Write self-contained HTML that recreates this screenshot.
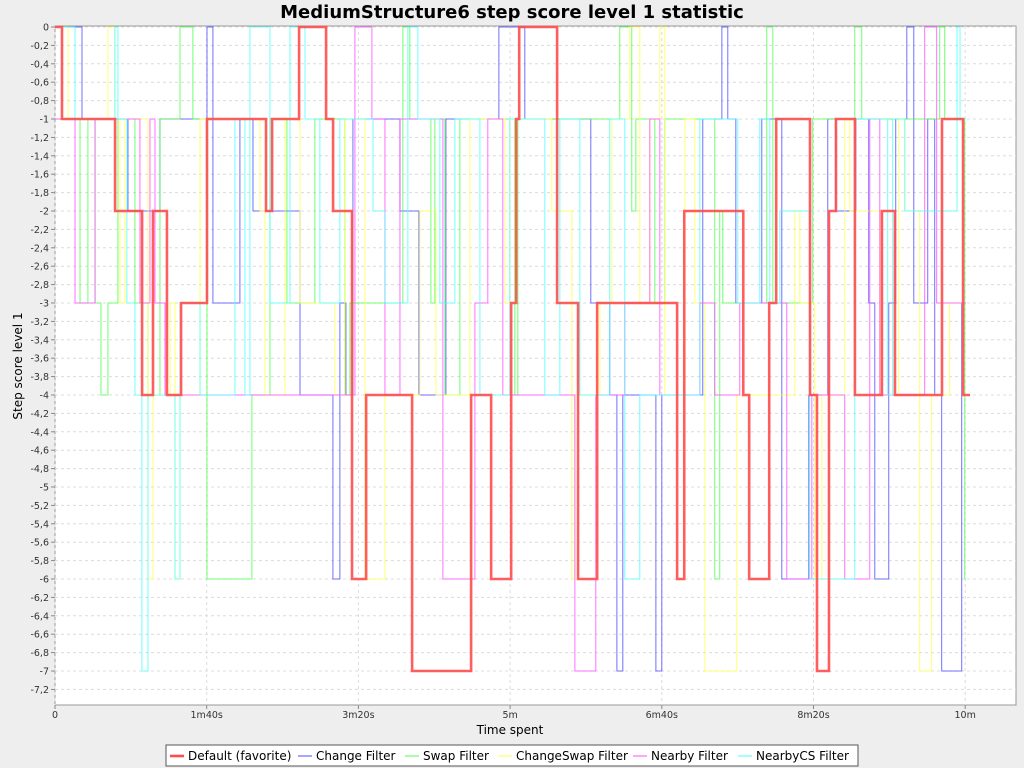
<!DOCTYPE html>
<html><head><meta charset="utf-8"><style>
body{margin:0;background:#eeeeee;font-family:"DejaVu Sans","Liberation Sans",sans-serif;}
svg{display:block;font-family:"DejaVu Sans","Liberation Sans",sans-serif;}
</style></head><body>
<svg id="chart" width="1024" height="768" xmlns="http://www.w3.org/2000/svg">
<rect x="0" y="0" width="1024" height="768" fill="#eeeeee"/>
<text x="512" y="18" text-anchor="middle" font-size="18" font-weight="bold">MediumStructure6 step score level 1 statistic</text>
<rect x="55" y="26" width="961" height="679" fill="#ffffff" stroke="#999" stroke-width="1"/>
<g id="grid"></g><g id="series"></g><g id="axes"></g>
<text x="510" y="734" text-anchor="middle" font-size="12">Time spent</text>
<text transform="translate(22,366) rotate(-90)" text-anchor="middle" font-size="12">Step score level 1</text>
<g>
<rect x="166" y="745" width="692" height="21" fill="#fff" stroke="#555"/>
<g id="legend"></g>
</g>
</svg>
<script>
const seriesNames=["Change Filter","Swap Filter","ChangeSwap Filter","Nearby Filter","NearbyCS Filter","Default (favorite)"];
const xTickValues=[0,100,200,300,400,500,600];
const xTickLabels=["0","1m40s","3m20s","5m","6m40s","8m20s","10m"];
const blueTimes=[0,17.8,48.1,69.2,100.2,104.1,121.9,130.5,161.5,183.2,187.8,191.8,196.4,227.4,239.9,257.7,292.6,309.7,353.2,365.7,370.4,374.3,396.1,400,427,439.6,443.5,448.8,465.9,479.1,496.9,509.4,514.7,527.9,536.4,540.4,549.6,554.2,561.5,566.1,575.3,579.9,584.5,597.7,600.3];
const blueValues=[0,-1,-2,-1,0,-3,-1,-2,-4,-6,-3,-4,-1,-2,-4,-1,0,-1,-3,-4,-7,-4,-7,-4,-1,0,-1,-3,-1,-6,-4,-1,-2,-1,-3,-6,-3,-1,0,-3,-1,-4,-7,-3,-3];
const greenTimes=[0,16.5,21.7,26.4,30.3,34.9,41.5,52.7,61.3,69.2,82.4,90.9,100.2,129.8,141.7,152.9,171.3,191.1,194.4,229.3,233.9,247.8,250.4,257,266.9,303.1,305.1,332.8,372.3,380.2,382.9,395.4,402,434.9,438.2,440.2,469.2,473.2,499.5,527.2,531.8,583.2,586.5,599.7,600.3];
const greenValues=[-1,-3,-1,-3,-4,-3,-1,-3,-4,-1,0,-1,-6,-4,-1,-3,-1,-4,-3,0,-1,-3,-1,-4,-1,-4,-1,-1,0,-2,-1,-3,-1,-6,-2,-3,0,-3,-1,0,-1,0,-1,-6,-6];
const yellowTimes=[0,8.6,34.9,39.5,42.8,46.1,61.3,64.6,75.8,79.1,82.4,95.6,135.1,138.4,151.6,161.5,184.5,191.1,204.3,217.5,240.5,251.1,273.5,296.6,299.8,327.5,340.7,342.7,359.2,367.1,378.9,385.5,392.1,398.7,402,415.2,421.8,428.4,449.4,487.7,491,500.8,505.5,520.6,523.9,543.7,556.2,560.2,570,577.9,589.8,600.3];
const yellowValues=[0,-1,0,-1,-3,-1,-6,-4,-3,-6,-4,-1,-2,-4,-1,-3,-4,-1,-6,-4,-2,-4,-1,-3,-1,-2,-6,-4,-3,-1,0,-3,-1,0,-4,-1,-3,-7,-4,-2,-3,-6,-4,-1,-2,-4,-1,-2,-7,-4,-3,-3];
const pinkTimes=[0,13.2,26.4,56,62.6,65.9,72.5,197.7,208.9,217.5,227.4,255.7,276.8,285.3,295.2,342.7,356.5,375.6,392.1,398.7,425.1,434.9,451.4,482.4,498.9,520.6,537.1,543.7,573.3,581.2,593.1,600.3];
const pinkValues=[-1,-3,-1,-3,-1,-3,-4,0,-1,-4,-1,-6,-3,-1,-4,-7,-4,-3,-1,-4,-3,-4,-3,-6,-4,-6,-1,-4,0,-3,-3,-3];
const cyanTimes=[0,13.2,39.5,41.5,47.4,52.7,57.3,61.3,79.1,82.4,95.6,118.6,125.2,128.5,141.7,154.9,164.8,174.6,187.8,209.6,217.5,232.6,239.2,253.7,263.6,280.1,299.8,322.9,332.8,346,365.7,375.6,385.5,425.1,450.1,464.6,471.2,477.8,497.5,527.2,548.9,552.2,560.2,594.6,596.6,600.3];
const cyanValues=[0,-1,0,-1,-3,-4,-7,-4,-6,-3,-4,-1,-4,0,-3,0,-1,-3,-1,-2,-3,0,-1,-3,-1,-4,-1,-4,-1,-4,-1,-6,-4,-1,-3,-1,-3,-2,-6,-1,-4,-1,-2,0,-1,-1];
const redTimes=[0,4.6,39.6,57.4,64.6,73.8,83.1,100.2,139.1,143.1,160.9,178.7,183.3,195.8,205.1,235.4,274.3,287.5,300.7,304,306,331,344.8,357.4,410.1,414.8,453.7,457.6,470.8,475.4,497.7,502.3,510.2,514.8,527.3,545.1,553.7,584.7,598.6,603.2];
const redValues=[0,-1,-2,-4,-2,-4,-3,-1,-2,-1,0,-1,-2,-6,-4,-7,-4,-6,-3,-1,0,-3,-6,-3,-6,-2,-4,-6,-3,-1,-4,-7,-2,-1,-4,-2,-4,-1,-4,-4];

const X0=55,XS=1.517,Y0=27,YS=92;
const xs=t=>X0+t*XS, ys=v=>Y0-v*YS;
const NS="http://www.w3.org/2000/svg";
const mk=(tag,attrs,parent)=>{const e=document.createElementNS(NS,tag);for(const k in attrs)e.setAttribute(k,attrs[k]);parent.appendChild(e);return e;};
const grid=document.getElementById('grid'),axes=document.getElementById('axes'),ser=document.getElementById('series'),leg=document.getElementById('legend');
for(let i=0;i<=36;i++){
  const v=-i*0.2,y=ys(v);
  const gl=mk('line',{x1:55,x2:1016,y1:y,y2:y,stroke:'#dcdcdc','stroke-dasharray':'3,3'},grid);
  
  
  const tk=mk('line',{x1:51,x2:55,y1:y,y2:y,stroke:'#888'},axes);
  
  
  let lab=(Math.round(v*10)/10).toString().replace('.',',');
  if(i===0)lab='0';
  const tx=mk('text',{x:49,y:y+3.5,'text-anchor':'end','font-size':9.5,fill:'#333'},axes);
  tx.textContent=lab;
  
  
}
xTickValues.forEach((t,i)=>{
  const x=xs(t);
  const gl=mk('line',{x1:x,x2:x,y1:26,y2:705,stroke:'#dcdcdc','stroke-dasharray':'3,3'},grid);
  
  
  const tk=mk('line',{x1:x,x2:x,y1:705,y2:709,stroke:'#888'},axes);
  
  
  const tx=mk('text',{x:x,y:718,'text-anchor':'middle','font-size':9.5,fill:'#333'},axes);
  tx.textContent=xTickLabels[i];
  
  
});
function step(times,vals){
  let d='M'+xs(times[0])+','+ys(vals[0]);
  for(let i=1;i<times.length;i++){d+=' H'+xs(times[i])+' V'+ys(vals[i]);}
  return d;
}
const defs=[
 [blueTimes,blueValues,'#4d4dff',1,0.8,'change-filter-line'],
 [greenTimes,greenValues,'#4dff4d',1,0.8,'swap-filter-line'],
 [yellowTimes,yellowValues,'#ffff4d',1,0.8,'changeswap-filter-line'],
 [pinkTimes,pinkValues,'#ff4dff',1,0.8,'nearby-filter-line'],
 [cyanTimes,cyanValues,'#4dffff',1,0.8,'nearbycs-filter-line'],
 [redTimes,redValues,'#ff4d4d',2.6,0.9,'default-favorite-line']
];
defs.forEach(s=>{
  const p=mk('path',{d:step(s[0],s[1]),fill:'none',stroke:s[2],'stroke-width':s[3],opacity:s[4]},ser);
  
  
});
const legItems=[["Default (favorite)",'#ff4d4d',2.6,170],["Change Filter",'#4d4dff',1,298],["Swap Filter",'#4dff4d',1,405],["ChangeSwap Filter",'#ffff4d',1,498],["Nearby Filter",'#ff4dff',1,633],["NearbyCS Filter",'#4dffff',1,738]];
legItems.forEach(l=>{
  const g=mk('g',{},leg);
  
  
  mk('line',{x1:l[3],x2:l[3]+14,y1:756,y2:756,stroke:l[1],'stroke-width':l[2]},g);
  const t=mk('text',{x:l[3]+18,y:760,'font-size':12,fill:'#000'},g);
  t.textContent=l[0];
});
</script>
</body></html>
